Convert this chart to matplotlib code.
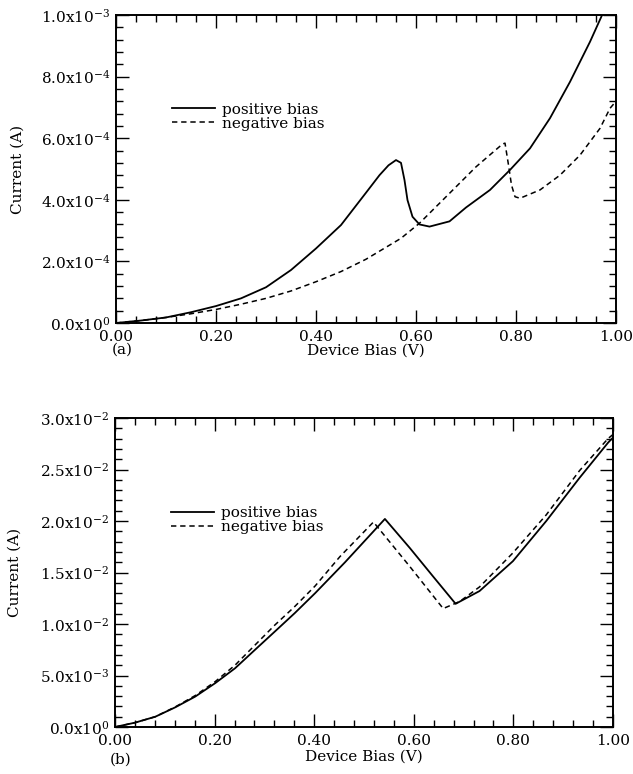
import matplotlib
matplotlib.use("Agg")
import matplotlib.pyplot as plt
from matplotlib.ticker import MultipleLocator, FixedLocator, FixedFormatter

# ---------------- data ----------------
# (a) top panel
a_pos_x = [0, 0.05, 0.10, 0.15, 0.20, 0.25, 0.30, 0.35, 0.40, 0.45, 0.50, 0.527, 0.545,
           0.56, 0.570, 0.577, 0.583, 0.593, 0.607, 0.627, 0.667, 0.70, 0.748, 0.788,
           0.828, 0.868, 0.908, 0.948, 0.975]
a_pos_y = [0, 0.8e-5, 1.8e-5, 3.5e-5, 5.5e-5, 8.0e-5, 1.16e-4, 1.72e-4, 2.42e-4, 3.18e-4,
           4.23e-4, 4.8e-4, 5.12e-4, 5.29e-4, 5.2e-4, 4.64e-4, 3.99e-4, 3.45e-4, 3.2e-4,
           3.13e-4, 3.3e-4, 3.75e-4, 4.32e-4, 4.97e-4, 5.67e-4, 6.65e-4, 7.83e-4, 9.13e-4,
           1.01e-3]
a_neg_x = [0, 0.05, 0.10, 0.15, 0.20, 0.25, 0.30, 0.35, 0.40, 0.45, 0.50, 0.57, 0.607,
           0.667, 0.72, 0.773, 0.778, 0.785, 0.791, 0.798, 0.808, 0.848, 0.888, 0.928,
           0.968, 0.988, 1.0]
a_neg_y = [0, 0.8e-5, 1.8e-5, 3.0e-5, 4.4e-5, 6.1e-5, 8.0e-5, 1.04e-4, 1.34e-4, 1.67e-4,
           2.07e-4, 2.75e-4, 3.24e-4, 4.21e-4, 5.07e-4, 5.81e-4, 5.84e-4, 5.13e-4, 4.48e-4,
           4.1e-4, 4.05e-4, 4.32e-4, 4.8e-4, 5.45e-4, 6.32e-4, 6.97e-4, 7.2e-4]

# (b) bottom panel
b_pos_x = [0, 0.04, 0.081, 0.121, 0.161, 0.201, 0.241, 0.281, 0.321, 0.361, 0.402, 0.462,
           0.542, 0.592, 0.639, 0.684, 0.732, 0.799, 0.866, 0.933, 0.99, 1.0]
b_pos_y = [0, 4.2e-4, 1.0e-3, 1.91e-3, 2.95e-3, 4.25e-3, 5.7e-3, 7.49e-3, 9.27e-3, 1.106e-2,
           1.30e-2, 1.60e-2, 2.02e-2, 1.738e-2, 1.46e-2, 1.196e-2, 1.32e-2, 1.61e-2, 2.0e-2,
           2.42e-2, 2.76e-2, 2.81e-2]
b_neg_x = [0, 0.04, 0.081, 0.121, 0.161, 0.201, 0.241, 0.281, 0.321, 0.361, 0.402, 0.452,
           0.519, 0.59, 0.659, 0.692, 0.732, 0.799, 0.866, 0.933, 0.99, 1.0]
b_neg_y = [0, 4.2e-4, 1.0e-3, 1.95e-3, 3.05e-3, 4.4e-3, 6.0e-3, 7.95e-3, 9.9e-3, 1.17e-2,
           1.37e-2, 1.656e-2, 1.99e-2, 1.57e-2, 1.15e-2, 1.218e-2, 1.36e-2, 1.69e-2, 2.06e-2,
           2.49e-2, 2.80e-2, 2.84e-2]

series_labels = ["positive bias", "negative bias"]
x_ticks = [0.0, 0.2, 0.4, 0.6, 0.8, 1.0]
x_ticklabels = ["0.00", "0.20", "0.40", "0.60", "0.80", "1.00"]
a_yticks = [0, 2e-4, 4e-4, 6e-4, 8e-4, 1e-3]
a_yticklabels = [r"0.0x10$^{0}$", r"2.0x10$^{-4}$", r"4.0x10$^{-4}$",
                 r"6.0x10$^{-4}$", r"8.0x10$^{-4}$", r"1.0x10$^{-3}$"]
b_yticks = [0, 5e-3, 1e-2, 1.5e-2, 2e-2, 2.5e-2, 3e-2]
b_yticklabels = [r"0.0x10$^{0}$", r"5.0x10$^{-3}$", r"1.0x10$^{-2}$", r"1.5x10$^{-2}$",
                 r"2.0x10$^{-2}$", r"2.5x10$^{-2}$", r"3.0x10$^{-2}$"]
x_label = "Device Bias (V)"
y_label = "Current (A)"

# ---------------- style ----------------
plt.rcParams['font.family'] = ['DejaVu Serif']
plt.rcParams['mathtext.fontset'] = 'dejavuserif'
FS = 11

fig = plt.figure(figsize=(6.33, 7.74), dpi=100)
ax_a = fig.add_axes([116/633, (774-323)/774, 500/633, 308/774])
ax_b = fig.add_axes([115/633, (774-727)/774, 498/633, 309/774])


def style(ax, yticks, yticklabels, ymax, yminor, panel, xlab_y, ylab_x, panel_y):
    ax.set_xlim(0, 1.0)
    ax.set_ylim(0, ymax)
    ax.xaxis.set_major_locator(FixedLocator(x_ticks))
    ax.xaxis.set_major_formatter(FixedFormatter(x_ticklabels))
    ax.xaxis.set_minor_locator(MultipleLocator(0.04))
    ax.yaxis.set_major_locator(FixedLocator(yticks))
    ax.yaxis.set_major_formatter(FixedFormatter(yticklabels))
    ax.yaxis.set_minor_locator(MultipleLocator(yminor))
    ax.tick_params(which='both', direction='in', top=True, right=True,
                   labelsize=FS, width=1.0, color='black')
    ax.tick_params(which='major', length=9.5)
    ax.tick_params(which='minor', length=5)
    ax.tick_params(axis='x', which='major', pad=5)
    ax.tick_params(axis='y', which='major', pad=4)
    for s in ax.spines.values():
        s.set_linewidth(1.4)
    ax.set_xlabel(x_label, fontsize=FS)
    ax.xaxis.set_label_coords(0.5, xlab_y)
    ax.set_ylabel(y_label, fontsize=FS)
    ax.yaxis.set_label_coords(ylab_x, 0.5)
    ax.text(0.012, panel_y, panel, transform=ax.transAxes, ha='center', va='center',
            fontsize=FS)
    ax.legend(loc='upper left', bbox_to_anchor=(0.112, 0.715), frameon=False,
              fontsize=FS, handlelength=2.8, handletextpad=0.5, labelspacing=0.0,
              borderpad=0, borderaxespad=0)


ax_a.plot(a_pos_x, a_pos_y, color='black', lw=1.3, ls='-', label=series_labels[0])
ax_a.plot(a_neg_x, a_neg_y, color='black', lw=1.1, ls=(0, (3.5, 2.5)), label=series_labels[1])
style(ax_a, a_yticks, a_yticklabels, 1e-3, 4e-5, "(a)", -0.066, -0.182, -0.088)

ax_b.plot(b_pos_x, b_pos_y, color='black', lw=1.3, ls='-', label=series_labels[0])
ax_b.plot(b_neg_x, b_neg_y, color='black', lw=1.1, ls=(0, (3.5, 2.5)), label=series_labels[1])
style(ax_b, b_yticks, b_yticklabels, 3e-2, 1e-3, "(b)", -0.072, -0.187, -0.107)

fig.savefig("out.png", dpi=100)
